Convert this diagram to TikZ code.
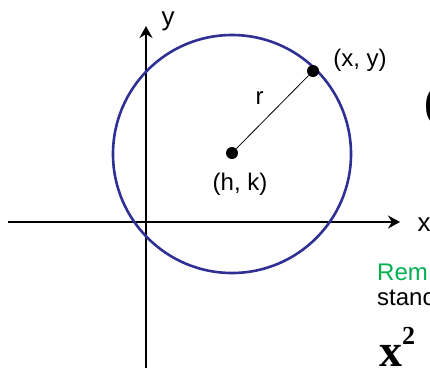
\documentclass[tikz,border=0pt]{standalone}
\usepackage{fontspec}
\setmainfont{Liberation Sans}
\newfontfamily\eqfont{Liberation Serif}
\usetikzlibrary{arrows.meta}
\definecolor{circblue}{RGB}{48,48,148}
\definecolor{remgreen}{RGB}{0,176,80}

\begin{document}
\begin{tikzpicture}[x=1pt, y=-1pt,
  every node/.style={font=\fontsize{24}{26}\selectfont, inner sep=0pt},
  axis/.style={line width=2.6pt, -{Stealth[length=12pt, width=13pt, inset=4pt]}},
  dot/.style={circle, fill=black, minimum size=12pt, inner sep=0pt},
  axlabel/.style={font=\fontsize{26}{28}\selectfont}
]
  \clip (0,0) rectangle (430,368);

  % axes
  \coordinate (xstart) at (8,222);
  \coordinate (xend)   at (400,222);
  \coordinate (ystart) at (146,368);
  \coordinate (yend)   at (146,26);
  \draw[axis] (xstart) -- (xend);
  \draw[axis] (ystart) -- (yend);
  \node[axlabel] (xlab) at (424,225) {x};
  \node[axlabel] (ylab) at (168,21) {y};

  % circle
  \draw[circblue, line width=2.6pt] (232,154) circle[radius=119];

  \node[dot] (hk) at (232,153) {};
  \node[dot] (xy) at (313,71) {};
  \draw[line width=0.8pt] (hk) -- node[xshift=-13pt, yshift=14pt] (rlab) {r} (xy);
  \node (hklab) at (240,184) {(h, k)};
  \node (xylab) at (360,60) {(x, y)};

  % cut-off slide text on the right
  \node[anchor=west, font=\eqfont\bfseries\fontsize{46}{48}\selectfont] (paren) at (424,106) {(};
  \node[anchor=base west, text=remgreen] (rem) at (377,280) {Rem};
  \node[anchor=base west] (stanc) at (377,305) {stanc};
  \node[anchor=base west, font=\eqfont\bfseries] (xsq) at (379,366)
    {{\fontsize{46}{48}\selectfont x}{\fontsize{26}{28}\selectfont\raisebox{22pt}{2}}};
\end{tikzpicture}
\end{document}
